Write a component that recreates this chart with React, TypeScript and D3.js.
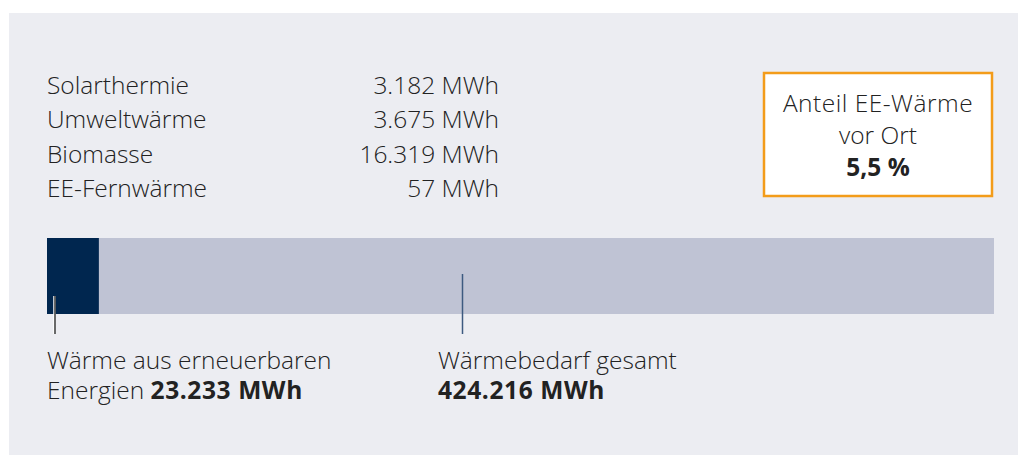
import React from "react";
import * as d3 from "d3";

const sources = ["Solarthermie", "Umweltwärme", "Biomasse", "EE-Fernwärme"];
const sourceValues = [3182, 3675, 16319, 57];
const eeTotal = 23233;
const demandTotal = 424216;
const shareLabel = "5,5 %";

const fmt = (v: number) => d3.format(",")(v).replace(/,/g, ".");

export default function App() {
  const W = 1018, H = 455;
  const x = d3.scaleLinear().domain([0, demandTotal]).range([47, 994]);
  const rowY = d3.scaleLinear().domain([0, 3]).range([94, 197]);
  const font = "'Open Sans', 'Noto Sans', sans-serif";
  const fs = 24.5;
  const barTop = 238, barBot = 314;
  const midTickX = 462.5;
  return (
    <svg width={W} height={H} style={{ position: "absolute", left: 0, top: 0 }} fontFamily={font}>
      <rect x={9} y={13} width={W - 9} height={H - 13} fill="#ECEDF2" />
      {sources.map((s, i) => (
        <g key={s}>
          <text x={47} y={rowY(i)} fontSize={fs} fill="#222" fontWeight={300}>{s}</text>
          <text x={499} y={rowY(i)} fontSize={fs} fill="#222" textAnchor="end" fontWeight={300}>
            {fmt(sourceValues[i])} MWh
          </text>
        </g>
      ))}
      <rect x={764} y={73} width={228} height={123} fill="#fff" stroke="#F39C1A" strokeWidth={2.5} />
      <text x={878} y={112} fontSize={fs} textAnchor="middle" fill="#222" fontWeight={300} letterSpacing={0.5}>Anteil EE-Wärme</text>
      <text x={878} y={144} fontSize={fs} textAnchor="middle" fill="#222" fontWeight={300}>vor Ort</text>
      <text x={878} y={176} fontSize={fs} textAnchor="middle" fill="#222" fontWeight={700}>{shareLabel}</text>

      <rect x={x(0)} y={barTop} width={x(demandTotal) - x(0)} height={barBot - barTop} fill="#BFC3D4" />
      <rect x={x(0)} y={barTop} width={x(eeTotal) - x(0)} height={barBot - barTop} fill="#00264F" />
      <line x1={54.5} x2={54.5} y1={296} y2={334} stroke="#ffffff" strokeWidth={2.5} />
      <line x1={55} x2={55} y1={296} y2={334} stroke="#1a1a1a" strokeWidth={1.3} />
      <line x1={midTickX} x2={midTickX} y1={274} y2={334} stroke="#3D5A80" strokeWidth={1.5} />

      <text x={47} y={369} fontSize={fs} fill="#222" fontWeight={300}>Wärme aus erneuerbaren</text>
      <text x={47} y={399} fontSize={fs} fill="#222" fontWeight={300}>
        Energien <tspan fontWeight={700} letterSpacing={0.6}>{fmt(eeTotal)} MWh</tspan>
      </text>
      <text x={438} y={369} fontSize={fs} fill="#222" fontWeight={300}>Wärmebedarf gesamt</text>
      <text x={438} y={399} fontSize={fs} fill="#222" fontWeight={700} letterSpacing={0.6}>{fmt(demandTotal)} MWh</text>
    </svg>
  );
}
